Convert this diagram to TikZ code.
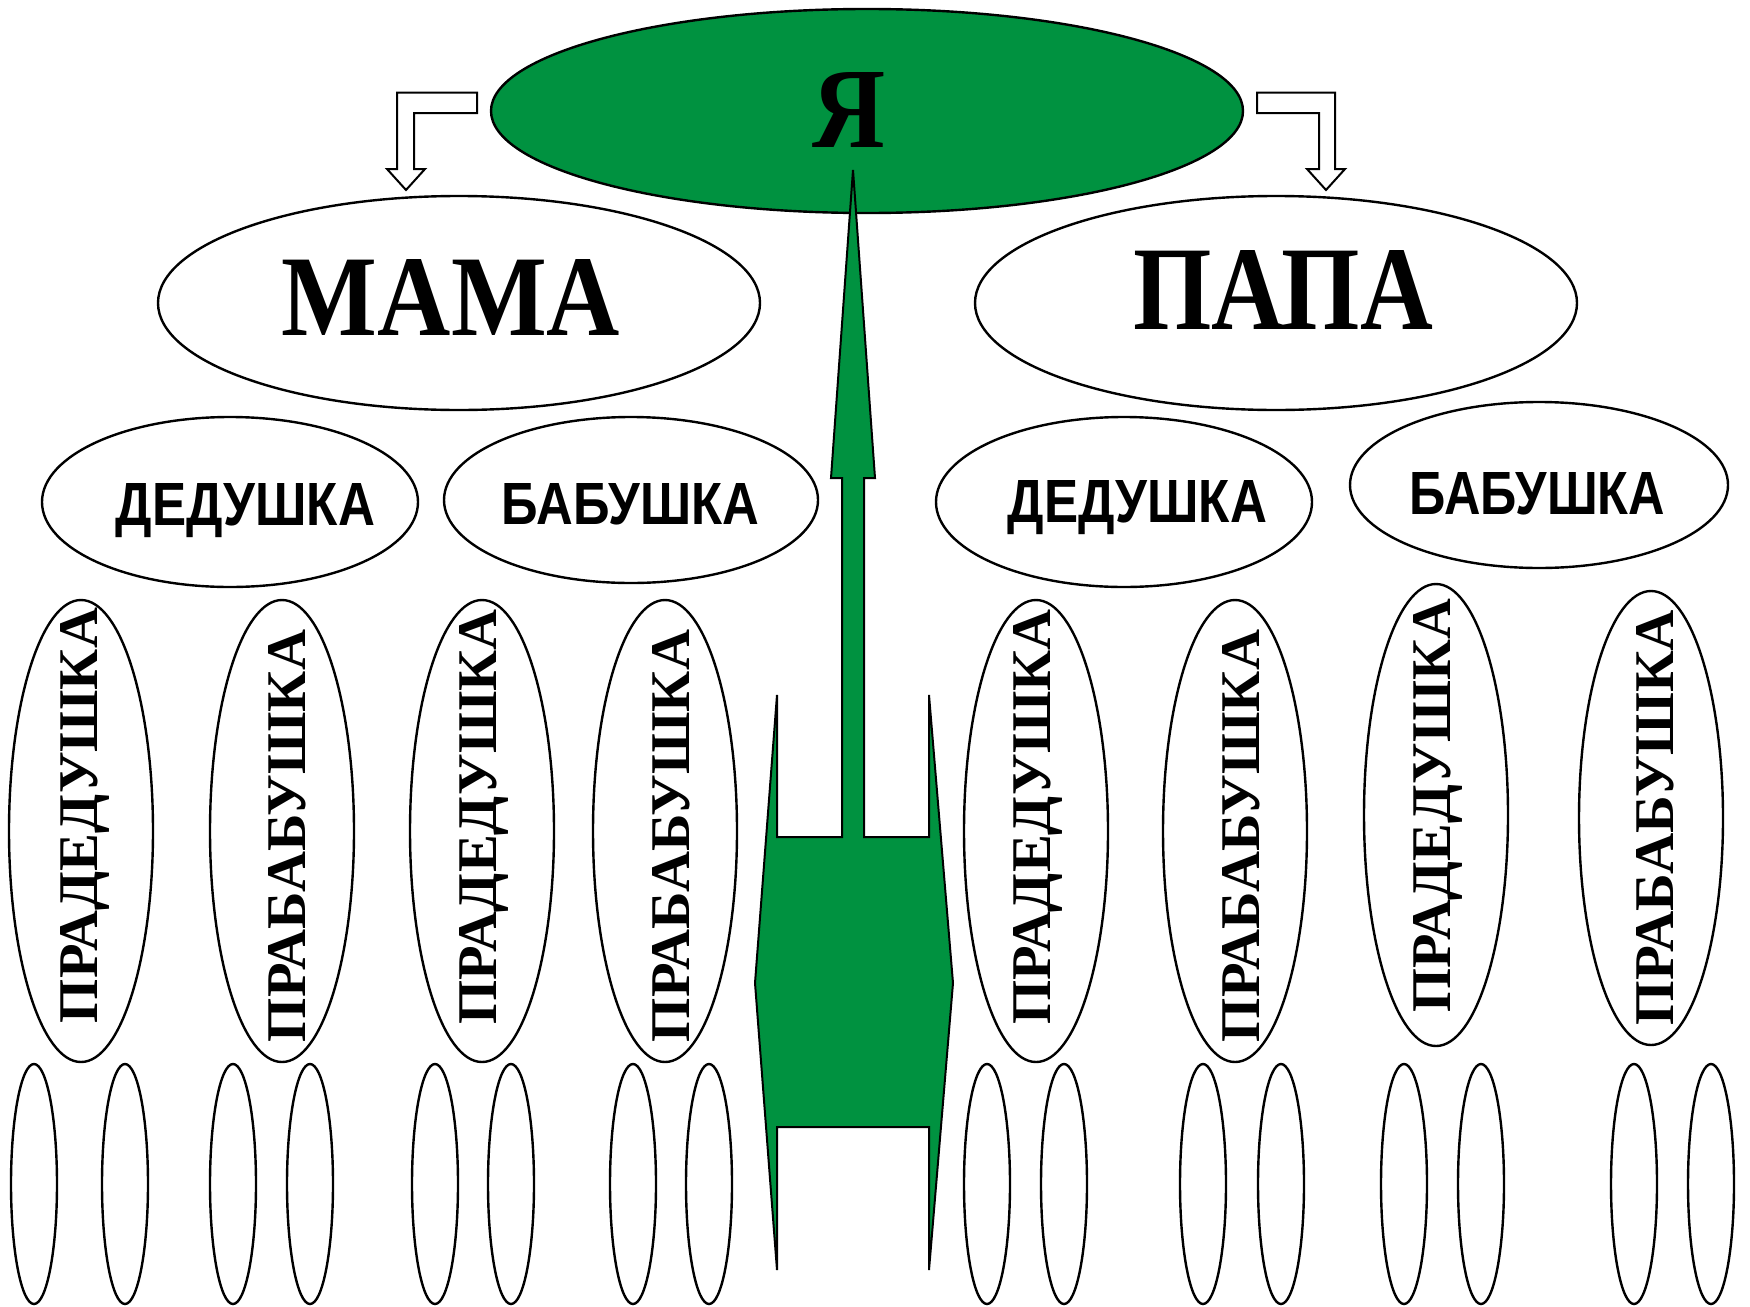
\documentclass[tikz,border=0pt]{standalone}
\usepackage{fontspec}
\setmainfont{Liberation Serif}
\newfontfamily\sansfam{Liberation Sans}
\usetikzlibrary{shapes.geometric}
\definecolor{treegreen}{RGB}{0,146,64}
\begin{document}
\begin{tikzpicture}[x=1pt,y=-1pt,
  ell/.style={ellipse, draw=black, line width=2.4pt, fill=white, inner sep=0pt},
  greenell/.style={ellipse, draw=black, line width=2.4pt, fill=treegreen, inner sep=0pt},
  txt/.style={inner sep=0pt, anchor=base, font=\bfseries},
  stxt/.style={inner sep=0pt, anchor=base, font=\sansfam\bfseries},
  greenshape/.style={draw=black, line width=2pt, fill=treegreen, line join=miter},
  hollow/.style={draw=black, line width=2pt, fill=white, line join=miter},
  tall/.style={ell, minimum width=144pt, minimum height=462pt},
  leaf/.style={ell, minimum width=46pt, minimum height=240pt}]
\useasboundingbox (0,0) rectangle (1750,1306);
\fill[white] (0,0) rectangle (1750,1306);

% top node
\node[greenell, minimum width=752pt, minimum height=204pt] (ya) at (867,111) {};

% central green arrow
\draw[greenshape] (777,695) -- (777,837) -- (842,837) -- (842,478) -- (831,478)
  -- (853,170) -- (875,478) -- (864,478) -- (864,837) -- (929,837) -- (929,695)
  -- (953,983) -- (929,1270) -- (929,1127) -- (777,1127) -- (777,1270)
  -- (755,983) -- cycle;
\node[txt] (tya) at (849.5,147) {\resizebox{73pt}{75pt}{Я}};

% hollow bent arrows
\draw[hollow] (477,92.7) -- (397,92.7) -- (397,169) -- (387,169) -- (406,190)
  -- (425,169) -- (414,169) -- (414,113) -- (477,113) -- cycle;
\draw[hollow] (1257,92.7) -- (1335,92.7) -- (1335,169) -- (1345,169) -- (1326,190)
  -- (1307,169) -- (1319,169) -- (1319,113) -- (1257,113) -- cycle;

% parents
\node[ell, minimum width=602pt, minimum height=214pt] (mama) at (459,303) {};
\node[txt] (tmama) at (451,335) {\resizebox{338pt}{76pt}{МАМА}};
\node[ell, minimum width=602pt, minimum height=214pt] (papa) at (1276,303) {};
\node[txt] (tpapa) at (1283,329) {\resizebox{300pt}{79pt}{ПАПА}};

% grandparents
\node[ell, minimum width=376pt, minimum height=170pt] (gd1) at (230,502) {};
\node[stxt] (tgd1) at (245.5,525) {\resizebox{259pt}{42pt}{ДЕДУШКА}};
\node[ell, minimum width=374pt, minimum height=166pt] (gm1) at (631,500) {};
\node[stxt] (tgm1) at (630.5,524) {\resizebox{257pt}{41pt}{БАБУШКА}};
\node[ell, minimum width=376pt, minimum height=170pt] (gd2) at (1124,502) {};
\node[stxt] (tgd2) at (1137.5,522) {\resizebox{259pt}{42pt}{ДЕДУШКА}};
\node[ell, minimum width=378pt, minimum height=166pt] (gm2) at (1539,485) {};
\node[stxt] (tgm2) at (1537.5,514) {\resizebox{255pt}{42pt}{БАБУШКА}};

% great-grandparents
\node[tall] (l1) at (81,831) {};
\node[txt, rotate=90] (tl1) at (97,815.5) {\resizebox{415pt}{37pt}{ПРАДЕДУШКА}};
\node[tall] (l2) at (282,831) {};
\node[txt, rotate=90] (tl2) at (305,836) {\resizebox{412pt}{37pt}{ПРАБАБУШКА}};
\node[tall] (l3) at (482,831) {};
\node[txt, rotate=90] (tl3) at (496,817) {\resizebox{415pt}{37pt}{ПРАДЕДУШКА}};
\node[tall] (l4) at (665,831) {};
\node[txt, rotate=90] (tl4) at (689,836) {\resizebox{412pt}{37pt}{ПРАБАБУШКА}};
\node[tall] (r1) at (1036,831) {};
\node[txt, rotate=90] (tr1) at (1050,817) {\resizebox{415pt}{37pt}{ПРАДЕДУШКА}};
\node[tall] (r2) at (1235,831) {};
\node[txt, rotate=90] (tr2) at (1259,836) {\resizebox{412pt}{37pt}{ПРАБАБУШКА}};
\node[tall] (r3) at (1436,815) {};
\node[txt, rotate=90] (tr3) at (1450,805.5) {\resizebox{413pt}{37pt}{ПРАДЕДУШКА}};
\node[tall, minimum height=454pt] (r4) at (1651,818) {};
\node[txt, rotate=90] (tr4) at (1673,817.5) {\resizebox{415pt}{37pt}{ПРАБАБУШКА}};

% empty leaves
\foreach \i/\xx in {1/34,2/125,3/233,4/310,5/435,6/511,7/633,8/709,
                    9/987,10/1064,11/1203,12/1281,13/1404,14/1481,15/1634,16/1711}
  \node[leaf] (leaf\i) at (\xx,1184) {};
\end{tikzpicture}
\end{document}
